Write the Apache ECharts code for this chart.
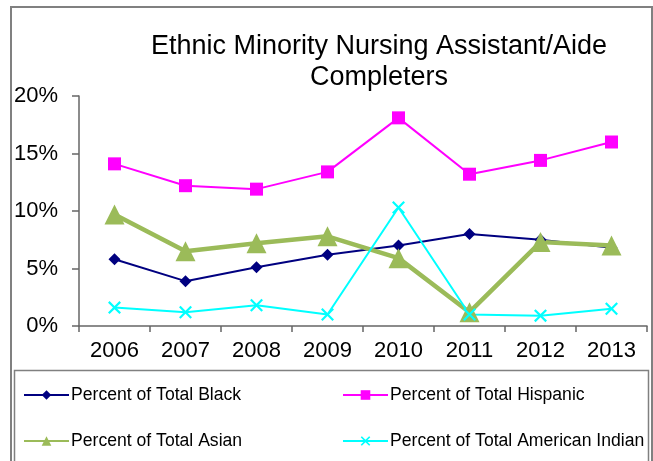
<!DOCTYPE html>
<html>
<head>
<meta charset="utf-8">
<script src="https://cdn.jsdelivr.net/npm/echarts@6/dist/echarts.min.js"></script>
<style>html,body{margin:0;padding:0;background:#fff}#c{width:653px;height:461px}</style>
</head>
<body>
<div id="c"></div>
<script>
const categories = ['2006','2007','2008','2009','2010','2011','2012','2013'];
const black =     [5.8, 3.9, 5.1, 6.2, 7.0, 8.0, 7.5, 6.8];
const hispanic =  [14.1, 12.2, 11.9, 13.4, 18.1, 13.2, 14.4, 16.0];
const asian =     [9.7, 6.5, 7.2, 7.8, 5.9, 1.2, 7.3, 7.0];
const amIndian =  [1.6, 1.2, 1.8, 1.0, 10.3, 1.0, 0.9, 1.5];
const seriesNames = ['Percent of Total Black','Percent of Total Hispanic','Percent of Total Asian','Percent of Total American Indian'];
const titleText = 'Ethnic Minority Nursing Assistant/Aide\nCompleters';

const FONT = '"Liberation Sans", Arial, sans-serif';
const xPath = 'path://M0,1.2 L1.2,0 L5,3.8 L8.8,0 L10,1.2 L6.2,5 L10,8.8 L8.8,10 L5,6.2 L1.2,10 L0,8.8 L3.8,5 Z';

const chart = echarts.init(document.getElementById('c'), null, {renderer: 'canvas'});
function legendAt(name, left, top) {
  return {
    data: [name], left: left, top: top, orient: 'horizontal',
    itemWidth: 45, itemHeight: 12, itemGap: 0,
    textStyle: {fontFamily: FONT, fontSize: 17.6, color: '#000', padding: [0,0,0,-3]},
    padding: 0
  };
}
chart.setOption({
  animation: false,
  backgroundColor: '#fff',
  graphic: [
    {type: 'rect', shape: {x: 11, y: 7, width: 641, height: 470}, style: {fill: 'none', stroke: '#808080', lineWidth: 2}, silent: true},
    {type: 'rect', shape: {x: 14.5, y: 370.5, width: 634, height: 100}, style: {fill: 'none', stroke: '#808080', lineWidth: 1.5}, silent: true}
  ],
  title: {
    text: titleText,
    left: 374, top: 26, textAlign: 'center',
    textStyle: {fontFamily: FONT, fontSize: 27, fontWeight: 'normal', color: '#000', lineHeight: 31}
  },
  legend: [
    legendAt(seriesNames[0], 23, 386),
    legendAt(seriesNames[1], 342, 386),
    legendAt(seriesNames[2], 23, 432),
    legendAt(seriesNames[3], 342, 432)
  ],
  grid: {left: 79, right: 6, top: 96, bottom: 135, containLabel: false},
  xAxis: {
    type: 'category', data: categories, boundaryGap: true,
    axisLine: {lineStyle: {color: '#666', width: 1.5}},
    axisTick: {show: true, length: 6, lineStyle: {color: '#666', width: 1.5}, alignWithLabel: false},
    axisLabel: {fontFamily: FONT, fontSize: 22, color: '#000', margin: 14}
  },
  yAxis: {
    type: 'value', min: 0, max: 20, interval: 5,
    splitLine: {show: false},
    axisLine: {show: true, lineStyle: {color: '#666', width: 1.5}},
    axisTick: {show: true, length: 7, lineStyle: {color: '#666', width: 1.5}},
    axisLabel: {fontFamily: FONT, fontSize: 22, color: '#000', margin: 21, formatter: '{value}%'}
  },
  series: [
    {name: seriesNames[0], type: 'line', data: black, symbol: 'diamond', symbolSize: 12,
     lineStyle: {color: '#000080', width: 2}, itemStyle: {color: '#000080'}},
    {name: seriesNames[1], type: 'line', data: hispanic, symbol: 'rect', symbolSize: 13,
     lineStyle: {color: '#FF00FF', width: 2}, itemStyle: {color: '#FF00FF'}},
    {name: seriesNames[2], type: 'line', data: asian, symbol: 'triangle', symbolSize: 20,
     lineStyle: {color: '#9BBB59', width: 4.5}, itemStyle: {color: '#9BBB59'}},
    {name: seriesNames[3], type: 'line', data: amIndian, symbol: xPath, symbolSize: 13,
     lineStyle: {color: '#00FFFF', width: 2}, itemStyle: {color: '#00FFFF'}}
  ]
});
</script>
</body>
</html>
